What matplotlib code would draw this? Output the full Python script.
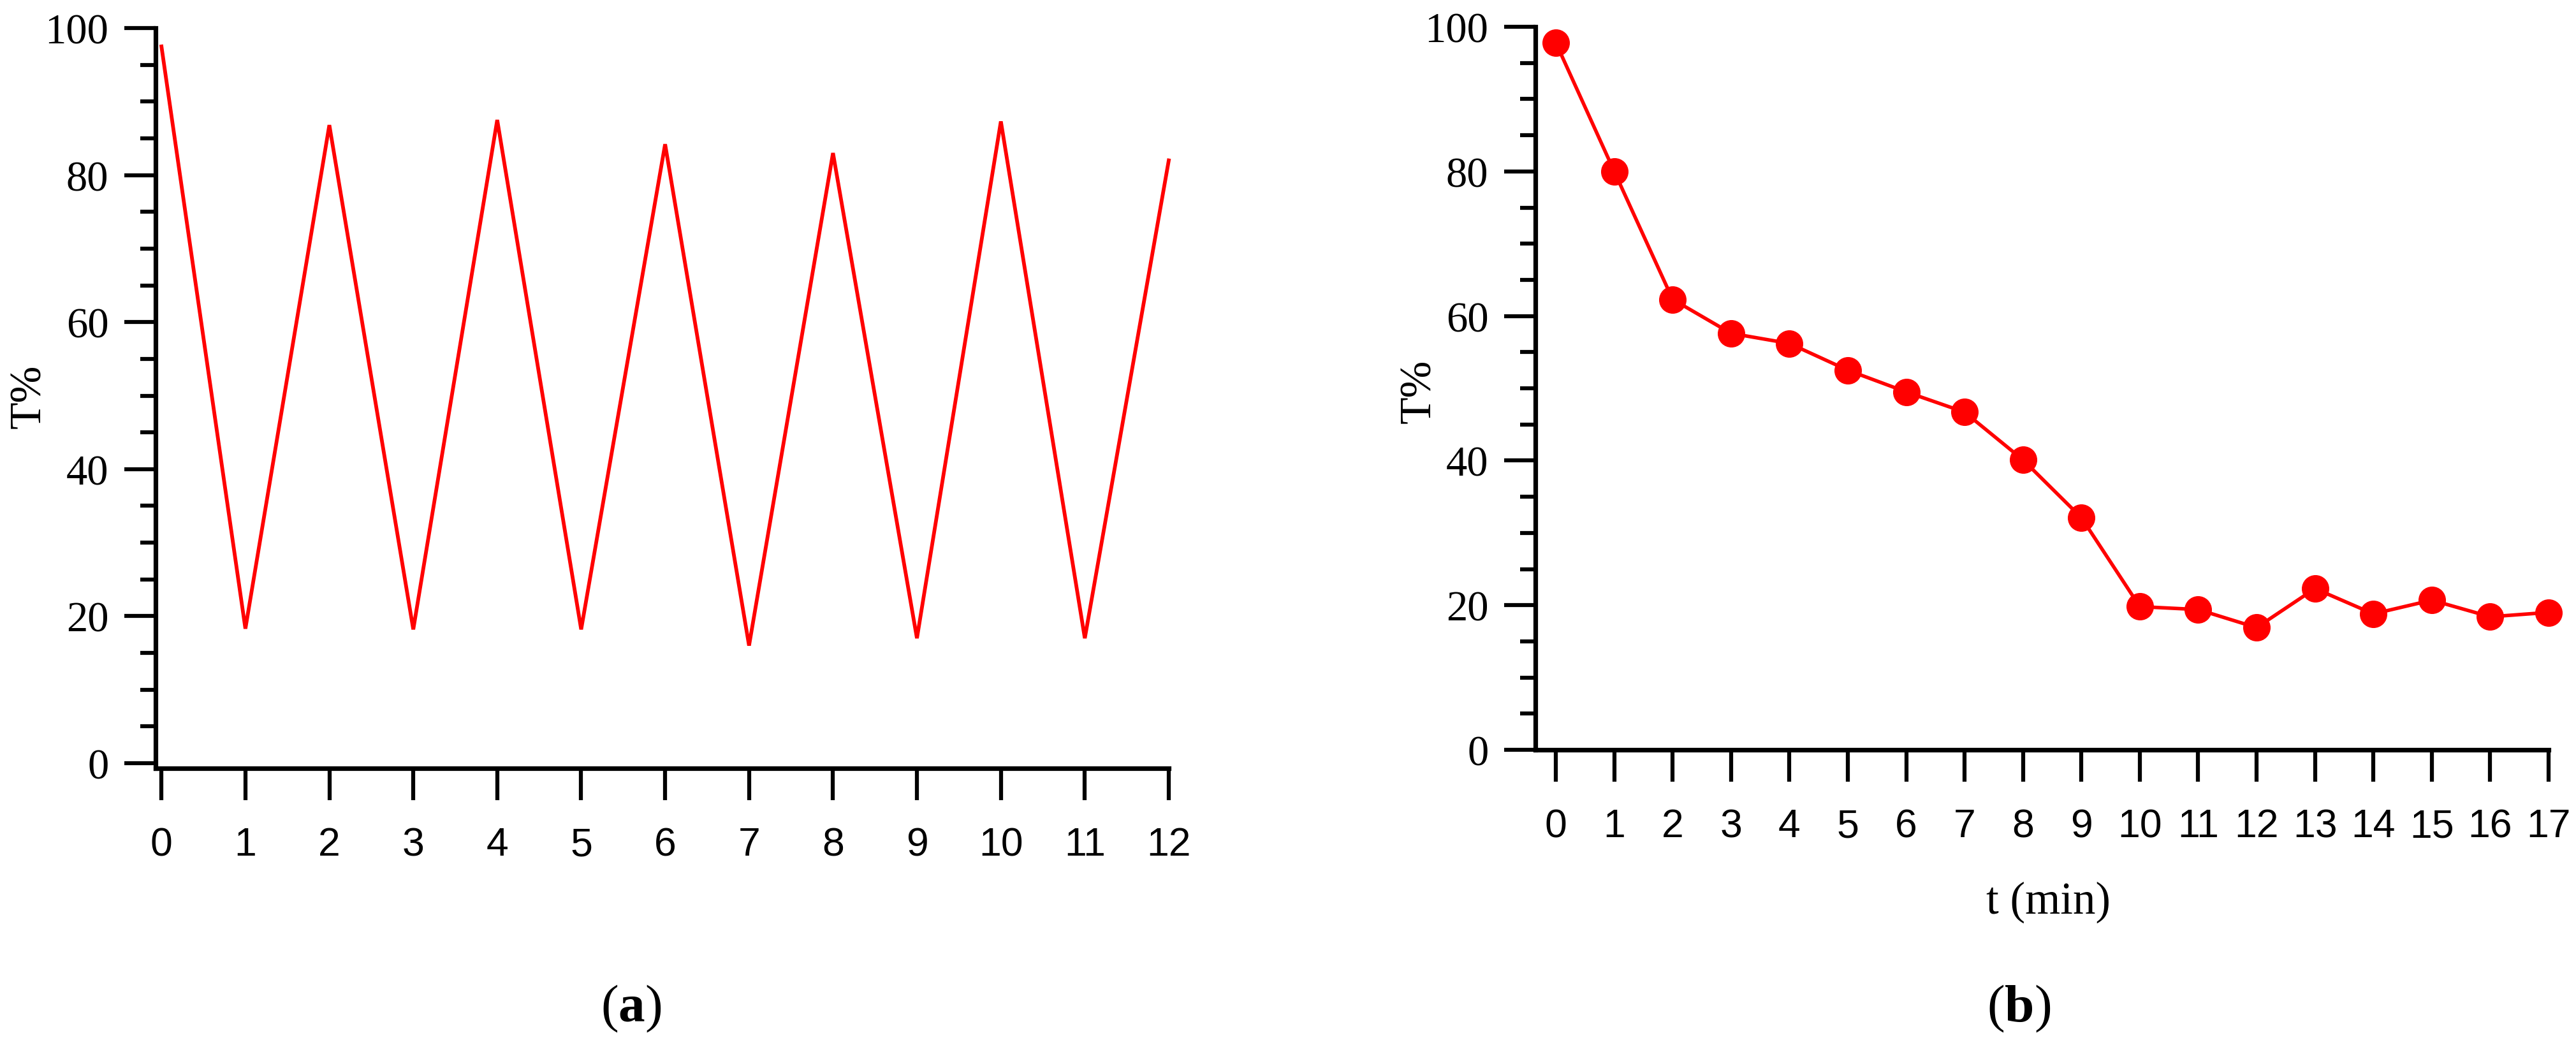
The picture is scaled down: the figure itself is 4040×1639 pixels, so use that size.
import matplotlib
matplotlib.use("Agg")
import matplotlib.pyplot as plt
from matplotlib import font_manager
from matplotlib.ticker import MultipleLocator

# ---------------- data ----------------
cycles_a = list(range(13))
T_a = [97.5, 18.3, 86.8, 18.2, 87.5, 18.2, 84.2, 16.0, 83.0, 17.0, 87.3, 17.0, 82.0]

time_b = list(range(18))
T_b = [97.8, 80.0, 62.3, 57.6, 56.2, 52.5, 49.5, 46.7, 40.1, 32.1,
       19.8, 19.4, 16.9, 22.3, 18.8, 20.7, 18.4, 19.0]

y_label = "T%"
x_label_b = "t (min)"
panel_labels = [r"$\mathrm{(}\mathbf{a}\mathrm{)}$", r"$\mathrm{(}\mathbf{b}\mathrm{)}$"]

# ---------------- fonts ----------------
names = {f.name for f in font_manager.fontManager.ttflist}
serif = "Liberation Serif" if "Liberation Serif" in names else "DejaVu Serif"
if "Liberation Sans Narrow" in names:
    xfont, xsize = "Liberation Sans Narrow", 50
else:
    xfont, xsize = "Liberation Sans", 45

plt.rcParams["mathtext.fontset"] = "custom"
plt.rcParams["mathtext.rm"] = serif
plt.rcParams["mathtext.bf"] = serif + ":bold"

RED = "#ff0000"

fig = plt.figure(figsize=(40.4, 16.4), dpi=100)
W, H = 4040, 1640

ax1 = fig.add_axes([244 / W, 1 - 1206 / H, 1589 / W, 1161 / H])
ax2 = fig.add_axes([2408 / W, 1 - 1177 / H, 1589 / W, 1134 / H])


def style(ax):
    for s in ["top", "right"]:
        ax.spines[s].set_visible(False)
    for s in ["left", "bottom"]:
        ax.spines[s].set_linewidth(5.2)
    ax.yaxis.set_major_locator(MultipleLocator(20))
    ax.yaxis.set_minor_locator(MultipleLocator(5))
    ax.xaxis.set_major_locator(MultipleLocator(1))
    ax.tick_params(axis="y", which="major", direction="out", length=35, width=4.5,
                   pad=18, labelsize=48, labelfontfamily=serif)
    ax.tick_params(axis="y", which="minor", direction="out", length=17, width=4.5)
    ax.tick_params(axis="x", which="major", direction="out", length=36, width=4.5,
                   pad=29, labelsize=xsize, labelfontfamily=xfont)
    ax.tick_params(axis="x", which="minor", bottom=False)


# ---------------- panel (a) ----------------
ax1.plot(cycles_a, T_a, color=RED, lw=4.2, solid_joinstyle="miter", clip_on=False)
ax1.set_xlim(-0.07, 12)
ax1.set_ylim(-0.69, 100)
style(ax1)
ax1.set_ylabel(y_label, fontfamily=serif, fontsize=50, va="center")
ax1.yaxis.set_label_coords(-0.1246, 0.503)

# ---------------- panel (b) ----------------
ax2.plot(time_b, T_b, color=RED, lw=4.0, marker="o", markersize=31,
         markeredgewidth=0, clip_on=False)
ax2.set_xlim(-0.35, 17)
ax2.set_ylim(0, 100)
style(ax2)
ax2.set_ylabel(y_label, fontfamily=serif, fontsize=50, va="center")
ax2.yaxis.set_label_coords(-0.1145, 0.497)
ax2.set_xlabel(x_label_b, fontfamily=serif, fontsize=51, va="center")
ax2.xaxis.set_label_coords(0.5066, -0.21)

# ---------------- panel labels ----------------
fig.text(990 / W, 1 - 1582 / H, panel_labels[0], ha="center", va="center", fontsize=60)
fig.text(3166 / W, 1 - 1582 / H, panel_labels[1], ha="center", va="center", fontsize=60)

fig.savefig("out.png", dpi=100, facecolor="white")
